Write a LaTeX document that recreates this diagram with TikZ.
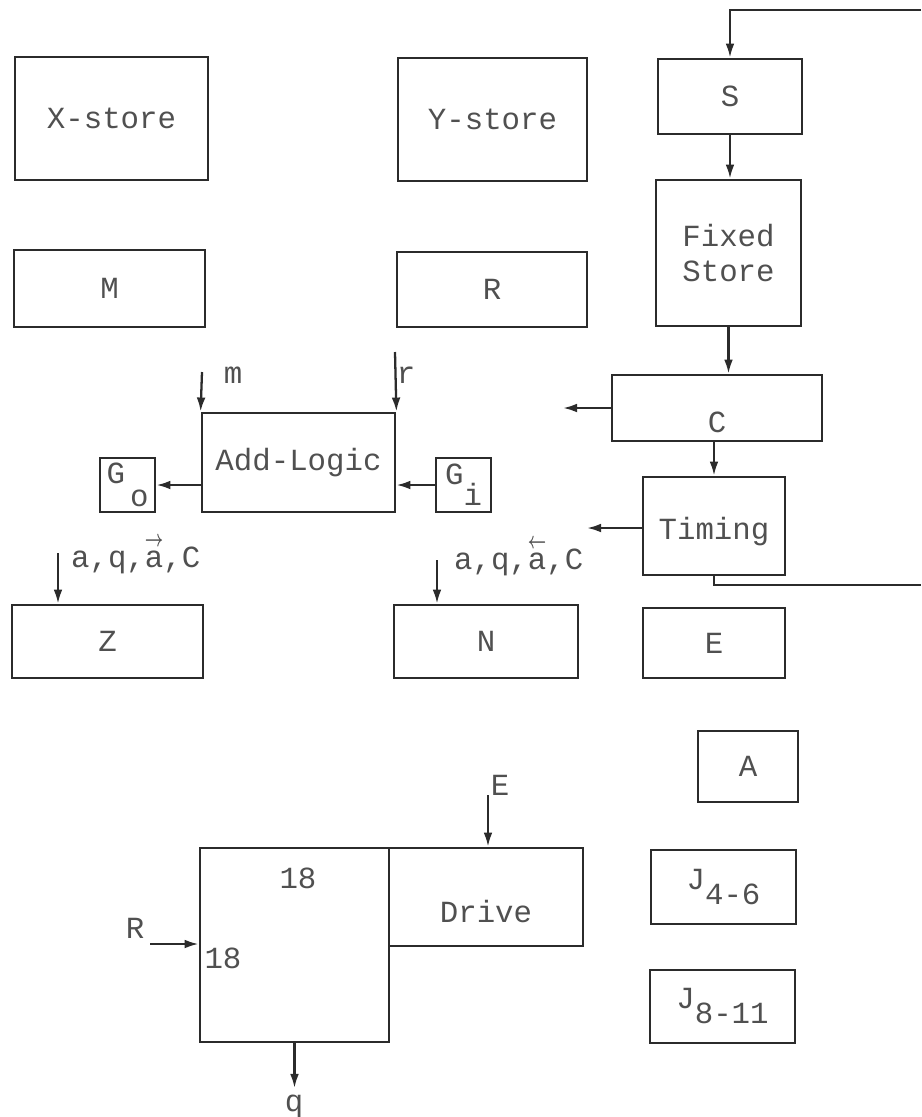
\documentclass[tikz,border=0pt]{standalone}
\usepackage{fontspec}
\setmainfont{Liberation Mono}
\usepackage{tikz}
\usetikzlibrary{arrows.meta, positioning, calc}
\definecolor{sdInk}{HTML}{2B2B2B}
\definecolor{sdType}{HTML}{505050}
\tikzset{
  sd-box/.style={
    rectangle, draw=sdInk, line width=1.6pt, inner sep=2pt,
    align=center, text=sdType
  },
  sd-flow/.style={-{Latex[length=8pt,width=5pt]}, line width=1.3pt, draw=sdInk},
  sd-line/.style={line width=1.3pt, draw=sdInk},
  sd-tag/.style={inner sep=1pt, text=sdType},
}
% lowered index, typewriter style
\newcommand{\sdsub}[3][0.42cm]{#2\raisebox{-#1}{#3}}
% text set lower in its box
\newcommand{\sdlow}[2]{\raisebox{-#1}[\height][\depth]{#2}}
% short arrow over a letter
\newcommand{\sdarr}[2]{\rlap{\raisebox{0.66em}[0pt][0pt]{\makebox[0.6em]{\resizebox{0.6em}{0.3em}{$\boldsymbol{#1}$}}}}#2}
\usepackage{amsmath}

\begin{document}
\begin{tikzpicture}[x=0.02cm, y=-0.02cm,
    font=\fontsize{17.5}{20}\selectfont]
  \useasboundingbox (0,0) rectangle (921,1117);

  % stores and registers
  \node[sd-box, minimum width=3.86cm, minimum height=2.46cm] (xstore) at (111.5,118.5) {X-store};
  \node[sd-box, minimum width=3.78cm, minimum height=2.46cm] (ystore) at (492.5,119.5) {Y-store};
  \node[sd-box, minimum width=3.82cm, minimum height=1.54cm] (mreg) at (109.5,288.5) {M};
  \node[sd-box, minimum width=3.8cm, minimum height=1.5cm]   (rreg) at (492,289.5) {R};
  \node[sd-box, minimum width=2.88cm, minimum height=1.5cm]  (sreg) at (730,96.5) {S};
  \node[sd-box, minimum width=2.9cm, minimum height=2.92cm]  (fixed) at (728.5,253) {Fixed\\Store};
  \node[sd-box, minimum width=4.2cm, minimum height=1.32cm]  (creg) at (717,408) {\sdlow{0.28cm}{C}};
  \node[sd-box, minimum width=2.84cm, minimum height=1.96cm] (timing) at (714,526) {\sdlow{0.12cm}{Timing}};
  \node[sd-box, minimum width=2.84cm, minimum height=1.4cm]  (ereg) at (714,643) {E};
  \node[sd-box, minimum width=2cm, minimum height=1.42cm]    (areg) at (748,766.5) {A};
  \node[sd-box, minimum width=2.9cm, minimum height=1.48cm]  (jfour) at (723.5,887) {\sdsub[0.3cm]{J}{4-6}};
  \node[sd-box, minimum width=2.9cm, minimum height=1.46cm]  (jeight) at (722.5,1006.5) {\sdsub[0.3cm]{J}{8-11}};

  % adder
  \node[sd-box, minimum width=3.86cm, minimum height=1.98cm] (addlogic) at (298.5,462.5) {Add-Logic};
  \node[sd-box, minimum width=1.1cm, minimum height=1.08cm]  (gout) at (127.5,485) {\sdsub[0.46cm]{G}{\hspace{0.1cm}o}};
  \node[sd-box, minimum width=1.1cm, minimum height=1.08cm]  (gin) at (463.5,485) {\sdsub{G}{i}};
  \node[sd-box, minimum width=3.82cm, minimum height=1.46cm] (zreg) at (107.5,641.5) {Z};
  \node[sd-box, minimum width=3.68cm, minimum height=1.46cm] (nreg) at (486,641.5) {N};

  % shifter and drive
  \node[sd-box, minimum width=3.78cm, minimum height=3.88cm] (acc) at (294.5,945) {};
  \node[sd-box, minimum width=3.88cm, minimum height=1.96cm] (drive) at (486,897) {\sdlow{0.3cm}{Drive}};
  \node[sd-tag] (acctop) at (298,878) {18};
  \node[sd-tag] (accleft) at (223,958) {18};

  % free ends
  \coordinate (loopin) at (921,10);
  \coordinate (loopout) at (921,585);
  \coordinate (cout) at (563,408);
  \coordinate (tout) at (587,528);
  \coordinate (min) at (202,372);
  \coordinate (rin) at (395,352);
  \coordinate (zin) at (58,553);
  \coordinate (nin) at (437,560);
  \coordinate (ein) at (488,795);
  \coordinate (rbin) at (150,944);
  \coordinate (qout) at (294.5,1088);

  % labels
  \node[sd-tag] (mlab) at (233,375) {m};
  \node[sd-tag] (rlab) at (406,375) {r};
  \node[sd-tag, anchor=west] (zlab) at (69,560) {a,q,\sdarr{\rightarrow}{a},C};
  \node[sd-tag, anchor=west] (nlab) at (452,562) {a,q,\sdarr{\leftarrow}{a},C};
  \node[sd-tag] (elab) at (500,785) {E};
  \node[sd-tag] (rblab) at (135,928) {R};
  \node[sd-tag] (qlab) at (294,1106) {q};

  % control loop
  \draw[sd-flow] (loopin) -| (sreg.north);
  \draw[sd-flow] (sreg.south) -- (sreg.south |- fixed.north);
  \draw[sd-flow] (fixed.south) -- (creg.north -| fixed.south);
  \draw[sd-flow] (creg.south -| timing.north) -- (timing);
  \draw[sd-flow] (creg.west) -- (cout);
  \draw[sd-flow] (timing.west |- tout) -- (tout);
  \draw[sd-line] (timing.south) |- (loopout);

  % adder connections
  \draw[sd-flow] (min) -- (addlogic.north west);
  \draw[sd-flow] (rin) -- (addlogic.north east);
  \draw[sd-flow] (addlogic.west |- gout.east) -- (gout.east);
  \draw[sd-flow] (gin.west) -- (gin.west -| addlogic.east);
  \draw[sd-flow] (zin) -- (zin |- zreg.north);
  \draw[sd-flow] (nin) -- (nin |- nreg.north);

  % shifter connections
  \draw[sd-flow] (ein) -- (ein |- drive.north);
  \draw[sd-flow] (rbin) -- (rbin -| acc.west);
  \draw[sd-flow] (acc.south) -- (qout);
\end{tikzpicture}
\end{document}
